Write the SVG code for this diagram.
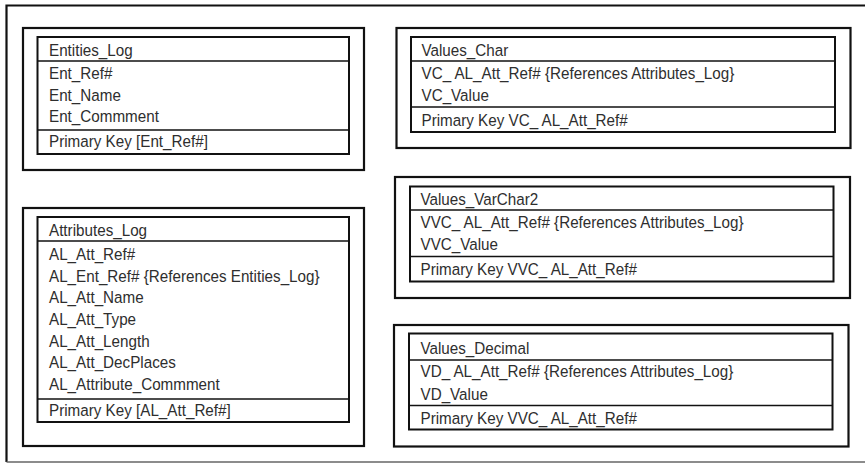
<svg xmlns="http://www.w3.org/2000/svg" width="865" height="464" viewBox="0 0 865 464">
<style>
.frame{fill:none;stroke:#111;stroke-width:2.2}
.tbl{fill:none;stroke:#111;stroke-width:2}
.div{stroke:#111;stroke-width:1.6}
text{font-family:"Liberation Sans",Arial,sans-serif;font-size:17px;fill:#2e2e2e}
</style>
<rect width="865" height="464" fill="#fff"/>
<g id="page">
<path d="M865 5.5H6.5V462" fill="none" stroke="#111" stroke-width="2.2"/>
<path d="M6.5 462H865" fill="none" stroke="#666" stroke-width="1.6"/>
</g>
<g id="connectors"></g>
<g id="entities_log">
<rect class="frame" x="23" y="28" width="341" height="142"/>
<rect class="tbl" x="37.5" y="37" width="311.5" height="117"/>
<line class="div" x1="37.5" y1="61" x2="349" y2="61"/>
<line class="div" x1="37.5" y1="130" x2="349" y2="130"/>
<text transform="translate(49 55.5) scale(0.895 1)">Entities_Log</text>
<text transform="translate(49 79) scale(0.895 1)">Ent_Ref#</text>
<text transform="translate(49 100.7) scale(0.895 1)">Ent_Name</text>
<text transform="translate(49 122.3) scale(0.895 1)">Ent_Commment</text>
<text transform="translate(49 147) scale(0.895 1)">Primary Key [Ent_Ref#]</text>
</g>
<g id="attributes_log">
<rect class="frame" x="23" y="208" width="341" height="238"/>
<rect class="tbl" x="37.5" y="217" width="311.5" height="205"/>
<line class="div" x1="37.5" y1="241" x2="349" y2="241"/>
<line class="div" x1="37.5" y1="399" x2="349" y2="399"/>
<text transform="translate(49 236) scale(0.895 1)">Attributes_Log</text>
<text transform="translate(49 260) scale(0.895 1)">AL_Att_Ref#</text>
<text transform="translate(49 281.7) scale(0.895 1)">AL_Ent_Ref# {References Entities_Log}</text>
<text transform="translate(49 303.3) scale(0.895 1)">AL_Att_Name</text>
<text transform="translate(49 325) scale(0.895 1)">AL_Att_Type</text>
<text transform="translate(49 346.7) scale(0.895 1)">AL_Att_Length</text>
<text transform="translate(49 368.3) scale(0.895 1)">AL_Att_DecPlaces</text>
<text transform="translate(49 390) scale(0.895 1)">AL_Attribute_Commment</text>
<text transform="translate(49 416) scale(0.895 1)">Primary Key [AL_Att_Ref#]</text>
</g>
<g id="values_char">
<rect class="frame" x="396.5" y="28" width="454" height="120"/>
<rect class="tbl" x="411" y="37" width="424" height="95"/>
<line class="div" x1="411" y1="61" x2="835" y2="61"/>
<line class="div" x1="411" y1="107" x2="835" y2="107"/>
<text transform="translate(421.5 55.5) scale(0.895 1)">Values_Char</text>
<text transform="translate(421.5 79) scale(0.895 1)">VC_ AL_Att_Ref# {References Attributes_Log}</text>
<text transform="translate(421.5 100.5) scale(0.895 1)">VC_Value</text>
<text transform="translate(421.5 126) scale(0.895 1)">Primary Key VC_ AL_Att_Ref#</text>
</g>
<g id="values_varchar2">
<rect class="frame" x="395" y="177" width="455" height="121"/>
<rect class="tbl" x="410" y="186.5" width="423.5" height="95"/>
<line class="div" x1="410" y1="210" x2="833.5" y2="210"/>
<line class="div" x1="410" y1="256.5" x2="833.5" y2="256.5"/>
<text transform="translate(420.5 205) scale(0.895 1)">Values_VarChar2</text>
<text transform="translate(420.5 228.3) scale(0.895 1)">VVC_ AL_Att_Ref# {References Attributes_Log}</text>
<text transform="translate(420.5 250) scale(0.895 1)">VVC_Value</text>
<text transform="translate(420.5 274.5) scale(0.895 1)">Primary Key VVC_ AL_Att_Ref#</text>
</g>
<g id="values_decimal">
<rect class="frame" x="394" y="325" width="454.5" height="121.5"/>
<rect class="tbl" x="409" y="333.5" width="423.5" height="96"/>
<line class="div" x1="409" y1="360" x2="832.5" y2="360"/>
<line class="div" x1="409" y1="405.5" x2="832.5" y2="405.5"/>
<text transform="translate(420.5 353.5) scale(0.895 1)">Values_Decimal</text>
<text transform="translate(420.5 377) scale(0.895 1)">VD_ AL_Att_Ref# {References Attributes_Log}</text>
<text transform="translate(420.5 399.5) scale(0.895 1)">VD_Value</text>
<text transform="translate(420.5 423.5) scale(0.895 1)">Primary Key VVC_ AL_Att_Ref#</text>
</g>
</svg>
